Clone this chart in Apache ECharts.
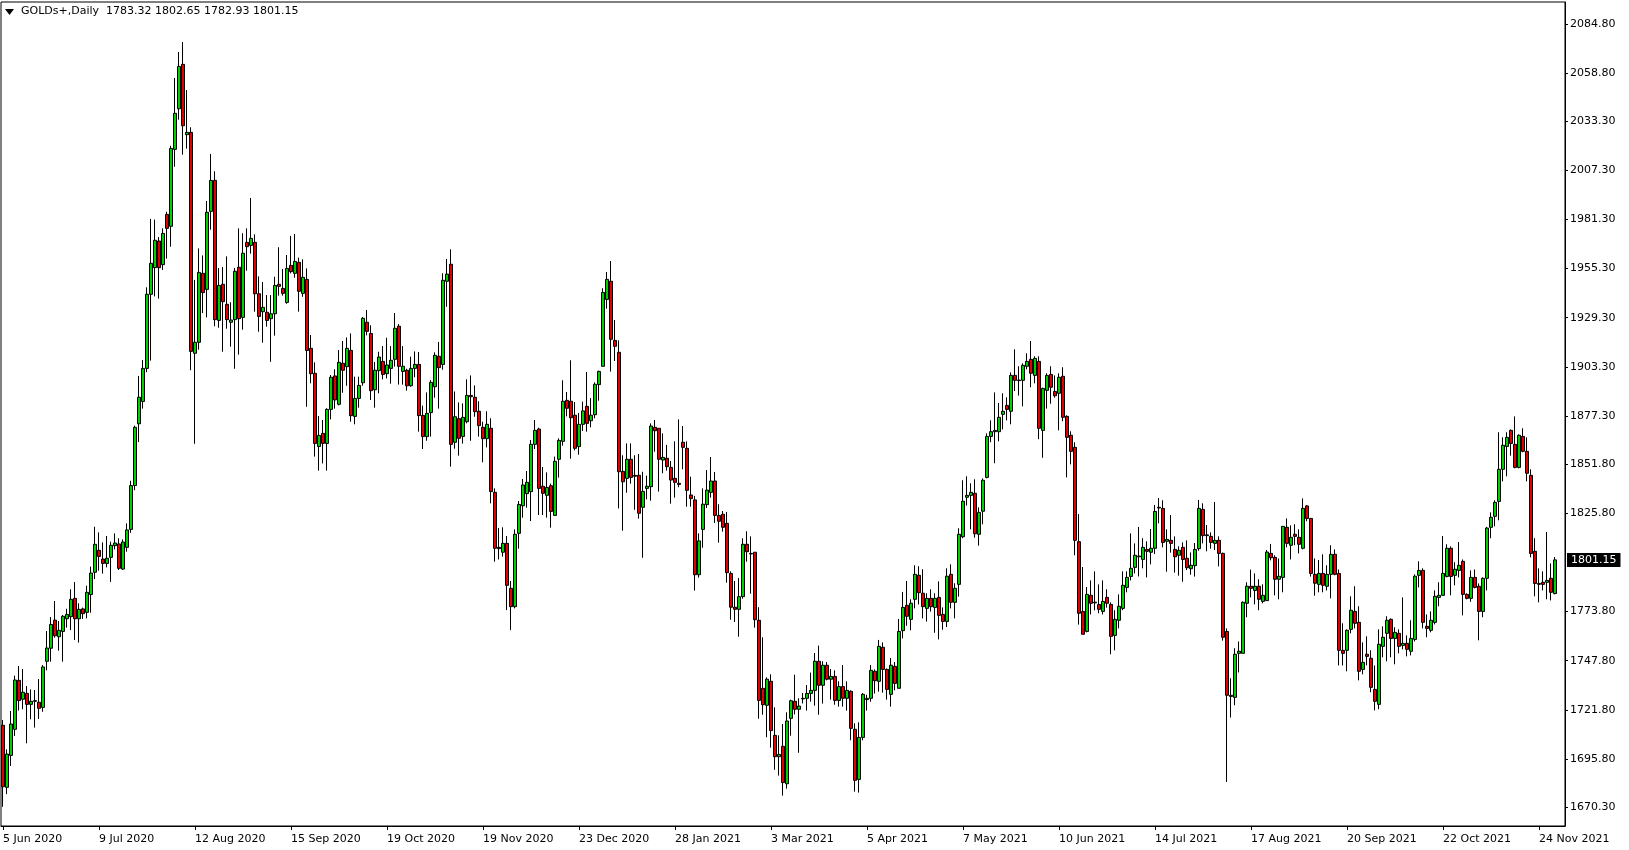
<!DOCTYPE html>
<html><head><meta charset="utf-8">
<script src="https://cdn.jsdelivr.net/npm/echarts@6/dist/echarts.min.js"></script>
<style>html,body{margin:0;padding:0;background:#fff}#c{width:1629px;height:850px}</style>
</head><body><div id="c"></div>
<script>
const chartTitle = 'GOLDs+,Daily';
const lastQuote = '1783.32 1802.65 1782.93 1801.15';
const currentPrice = 1801.15;
const tickLabels = ['5 Jun 2020','9 Jul 2020','12 Aug 2020','15 Sep 2020','19 Oct 2020','19 Nov 2020','23 Dec 2020','28 Jan 2021','3 Mar 2021','5 Apr 2021','7 May 2021','10 Jun 2021','14 Jul 2021','17 Aug 2021','20 Sep 2021','22 Oct 2021','24 Nov 2021'];
const priceTicks = [2084.80,2058.80,2033.30,2007.30,1981.30,1955.30,1929.30,1903.30,1877.30,1851.80,1825.80,1773.80,1747.80,1721.80,1695.80,1670.30];

const opens = [
1713.6,1680.8,1697.7,1711.5,1737.4,1727.4,1730.5,1724.7,1726.3,1725.8,
1723.1,1747.5,1754.4,1769.3,1760.5,1763.3,1770.0,1771.1,1780.8,1770.0,
1775.2,1773.4,1782.8,1794.6,1806.2,1801.6,1799.3,1802.5,1808.7,1809.6,
1796.3,1807.8,1817.3,1840.5,1873.2,1885.0,1902.5,1941.7,1955.8,1969.9,
1957.4,1984.0,1977.7,2018.4,2039.9,2063.4,2026.2,2027.4,1910.5,1916.3,
1952.8,1944.3,1985.6,2002.0,1927.9,1947.0,1936.4,1926.9,1928.3,1956.0,
1929.5,1969.2,1967.6,1969.2,1942.0,1932.5,1932.2,1928.8,1931.4,1947.0,
1944.8,1937.4,1957.0,1952.8,1958.6,1942.2,1949.6,1913.1,1899.9,1861.2,
1868.1,1862.8,1880.8,1898.5,1883.5,1905.2,1903.4,1912.0,1877.1,1886.6,
1894.9,1926.9,1921.0,1891.2,1901.3,1906.2,1899.7,1902.5,1907.3,1924.8,
1900.9,1901.5,1893.3,1902.5,1904.6,1877.6,1866.4,1879.1,1892.8,1908.9,
1904.6,1948.6,1957.6,1863.4,1875.9,1866.5,1874.3,1888.2,1887.2,1879.8,
1871.3,1865.3,1870.8,1836.9,1807.8,1805.2,1809.9,1786.1,1776.4,1815.2,
1829.8,1836.2,1837.3,1862.3,1870.4,1840.1,1835.3,1840.4,1824.7,1854.4,
1863.9,1885.6,1885.1,1877.7,1861.1,1872.9,1882.4,1874.8,1878.0,1893.9,
1903.6,1939.0,1948.6,1917.3,1911.0,1848.0,1844.3,1854.4,1845.9,1845.9,
1829.0,1839.0,1839.9,1871.3,1870.8,1854.0,1854.9,1850.1,1844.3,1841.7,
1863.4,1860.2,1835.5,1832.9,1793.3,1817.3,1830.4,1836.9,1842.9,1824.7,
1825.3,1820.5,1794.0,1776.1,1775.0,1781.7,1809.4,1804.6,1805.2,1769.2,
1733.2,1724.2,1736.9,1708.3,1697.0,1702.5,1682.7,1717.3,1726.3,1722.1,
1727.6,1727.9,1730.5,1732.1,1747.5,1734.8,1745.4,1738.0,1739.5,1726.8,
1734.1,1727.9,1731.6,1711.5,1685.0,1707.2,1727.2,1727.9,1742.2,1736.9,
1754.9,1743.2,1730.0,1744.8,1733.2,1763.7,1777.1,1769.7,1780.3,1793.0,
1783.5,1775.5,1780.8,1776.0,1781.3,1772.3,1768.6,1793.5,1778.7,1788.2,
1813.4,1834.3,1835.3,1836.4,1814.7,1826.9,1844.8,1866.5,1869.0,1869.0,
1878.2,1882.9,1879.8,1898.8,1896.3,1896.2,1903.6,1907.3,1898.8,1906.2,
1869.7,1890.9,1899.3,1890.3,1889.3,1898.3,1877.1,1867.1,1860.7,1810.8,
1773.9,1763.3,1782.4,1778.8,1777.6,1773.9,1781.3,1777.6,1761.2,1769.2,
1775.5,1786.6,1792.4,1797.2,1802.8,1801.4,1806.7,1805.2,1807.3,1829.0,
1828.4,1811.0,1811.5,1806.7,1803.6,1807.8,1802.0,1796.5,1798.1,1807.1,
1827.9,1814.4,1813.6,1809.9,1811.5,1804.6,1763.3,1729.5,1728.4,1751.7,
1751.7,1778.2,1787.2,1785.0,1787.2,1779.2,1779.6,1804.6,1802.5,1790.9,
1791.9,1818.4,1808.9,1814.7,1813.1,1807.3,1829.7,1823.1,1793.5,1788.2,
1794.0,1787.2,1793.5,1804.1,1794.0,1753.3,1753.3,1764.4,1773.9,1768.1,
1743.2,1751.2,1749.1,1732.6,1724.7,1755.4,1762.3,1769.7,1759.6,1762.3,
1755.9,1757.0,1752.8,1759.1,1793.0,1795.6,1766.0,1763.9,1768.1,1781.3,
1782.4,1792.4,1807.3,1793.0,1795.6,1800.4,1782.9,1780.8,1791.9,1787.2,
1773.9,1791.4,1818.4,1824.2,1832.1,1849.1,1861.2,1869.7,1862.3,1850.1,
1866.5,1858.6,1845.9,1805.7,1788.7,1789.3,1789.3,1791.4,1783.32];

const highs = [
1716.4,1700.9,1721.2,1739.9,1745.0,1743.4,1734.4,1732.6,1732.3,1738.1,
1745.5,1763.5,1770.9,1779.4,1768.8,1772.0,1775.3,1785.6,1789.4,1778.2,
1775.9,1787.5,1797.6,1818.7,1815.7,1810.4,1813.8,1810.8,1815.2,1812.6,
1812.0,1820.5,1843.0,1872.2,1898.5,1906.9,1945.4,1981.6,1981.2,1972.0,
1976.6,1985.4,2020.3,2056.2,2069.9,2075.2,2049.8,2030.1,1949.3,1966.0,
1962.3,1991.1,2016.0,2006.8,1955.6,1956.1,1961.8,1937.5,1955.6,1976.6,
1974.0,1976.6,1992.7,1973.4,1951.2,1948.2,1941.3,1941.3,1951.0,1966.6,
1955.1,1962.5,1972.6,1973.6,1961.1,1960.2,1955.4,1920.2,1905.7,1877.3,
1875.2,1881.4,1899.0,1902.0,1912.2,1917.0,1918.9,1921.0,1898.1,1898.1,
1929.7,1933.4,1925.3,1905.9,1911.3,1914.3,1918.7,1914.3,1931.8,1926.0,
1914.3,1902.3,1908.7,1911.5,1911.2,1882.8,1889.8,1896.3,1911.0,1916.5,
1952.8,1960.4,1965.5,1890.3,1884.5,1884.0,1896.7,1898.8,1893.5,1885.1,
1874.3,1879.8,1876.1,1839.0,1818.0,1818.4,1813.8,1790.0,1817.3,1832.3,
1844.0,1848.2,1864.6,1875.2,1871.1,1850.3,1847.5,1841.5,1855.8,1865.5,
1896.2,1890.0,1906.8,1884.7,1878.9,1884.9,1900.6,1886.8,1895.1,1901.3,
1944.9,1953.5,1959.3,1928.1,1917.3,1856.5,1862.8,1862.8,1856.5,1857.2,
1847.8,1845.7,1873.4,1875.2,1870.8,1868.1,1862.0,1853.5,1863.9,1875.5,
1872.0,1863.9,1845.2,1835.0,1815.2,1839.0,1848.7,1855.6,1847.7,1830.6,
1827.0,1826.5,1795.1,1790.0,1791.6,1812.6,1816.3,1813.6,1805.2,1776.1,
1760.2,1739.0,1740.6,1723.1,1708.3,1714.3,1720.5,1727.2,1740.4,1727.9,
1730.7,1734.9,1741.5,1751.9,1755.8,1747.5,1747.1,1743.4,1742.7,1736.9,
1745.5,1736.9,1732.1,1714.7,1715.2,1730.7,1729.8,1745.5,1743.2,1758.8,
1757.5,1743.7,1749.2,1747.1,1769.9,1784.2,1790.0,1780.3,1798.3,1797.8,
1796.2,1783.5,1785.6,1783.5,1789.8,1776.0,1796.7,1798.8,1788.8,1817.9,
1843.3,1845.4,1841.7,1843.8,1829.0,1844.3,1868.1,1875.0,1889.8,1884.2,
1889.3,1887.2,1900.4,1912.6,1903.6,1905.2,1910.5,1917.0,1908.9,1908.9,
1892.3,1899.9,1903.6,1898.8,1899.9,1903.1,1877.7,1869.2,1863.4,1825.4,
1797.4,1786.8,1790.3,1795.1,1788.2,1790.3,1785.6,1778.7,1774.5,1782.9,
1795.1,1795.1,1815.2,1809.9,1818.6,1812.6,1811.0,1817.5,1830.2,1833.9,
1832.7,1817.3,1824.9,1813.6,1808.3,1810.4,1811.5,1805.1,1810.1,1832.9,
1831.1,1819.6,1815.7,1831.8,1813.6,1805.0,1764.9,1738.5,1754.4,1758.0,
1779.2,1789.3,1796.0,1794.0,1790.9,1788.2,1806.4,1809.6,1803.6,1801.9,
1818.9,1823.1,1819.4,1820.0,1817.3,1833.7,1830.2,1823.1,1801.9,1801.1,
1804.1,1798.3,1808.9,1806.7,1796.1,1767.6,1764.4,1781.9,1787.2,1776.6,
1757.5,1760.7,1753.3,1745.3,1764.4,1766.0,1771.3,1770.2,1765.5,1764.4,
1781.3,1761.2,1769.2,1793.5,1800.4,1796.7,1772.3,1773.9,1785.0,1789.3,
1813.8,1809.4,1808.3,1799.9,1810.6,1801.4,1783.5,1795.6,1796.1,1788.7,
1791.9,1818.6,1826.3,1832.7,1868.7,1866.0,1868.7,1870.2,1877.1,1867.6,
1870.8,1866.0,1849.1,1812.6,1796.7,1795.1,1815.9,1799.3,1802.65];

const lows = [
1670.5,1677.2,1692.1,1708.0,1721.4,1722.1,1704.1,1716.8,1712.4,1717.0,
1720.8,1742.7,1747.3,1760.0,1753.1,1747.3,1765.3,1764.0,1758.8,1757.4,
1769.9,1770.2,1773.2,1791.0,1795.4,1793.9,1797.2,1789.5,1806.7,1795.8,
1795.8,1805.5,1815.5,1838.0,1863.5,1881.2,1900.5,1906.6,1940.6,1939.4,
1954.6,1960.6,1966.9,2009.2,2034.1,2015.6,2018.8,1901.5,1862.6,1912.4,
1931.8,1929.5,1975.9,1924.8,1924.0,1911.3,1923.5,1914.0,1902.3,1909.8,
1923.0,1954.2,1963.2,1932.5,1921.9,1916.1,1924.6,1906.0,1919.8,1941.0,
1941.0,1936.7,1952.8,1950.5,1932.5,1940.4,1882.2,1894.6,1855.8,1848.4,
1852.2,1848.4,1875.5,1881.2,1882.9,1889.6,1893.3,1874.3,1872.9,1881.7,
1893.3,1920.0,1885.8,1881.7,1889.3,1896.7,1897.2,1894.4,1903.4,1893.9,
1893.9,1890.7,1892.8,1897.8,1869.0,1859.8,1864.2,1866.4,1887.0,1881.2,
1901.8,1935.1,1850.5,1860.0,1856.3,1862.7,1873.4,1864.2,1876.9,1866.4,
1852.8,1860.7,1831.1,1800.2,1801.4,1802.9,1774.6,1764.0,1775.5,1807.1,
1823.5,1828.8,1821.7,1859.8,1824.9,1824.9,1823.5,1818.2,1824.7,1844.7,
1861.6,1877.1,1854.7,1859.1,1856.8,1869.4,1869.0,1871.3,1876.1,1885.4,
1903.6,1934.1,1900.8,1906.4,1828.4,1816.6,1836.7,1841.5,1827.7,1823.0,
1802.3,1833.2,1832.5,1858.4,1837.3,1847.0,1848.4,1830.9,1834.1,1839.6,
1849.1,1829.3,1829.3,1784.9,1791.8,1807.6,1828.6,1834.1,1820.7,1810.3,
1816.1,1789.1,1769.5,1768.3,1760.5,1780.6,1800.2,1783.3,1765.3,1717.1,
1719.2,1707.3,1701.8,1690.1,1687.0,1676.4,1680.1,1708.1,1719.4,1699.1,
1725.2,1721.4,1726.1,1724.0,1719.2,1725.1,1737.4,1727.2,1724.5,1723.5,
1723.5,1721.4,1705.7,1678.5,1678.0,1705.7,1721.4,1726.1,1730.4,1731.4,
1730.9,1727.2,1723.5,1732.1,1733.2,1759.6,1766.3,1763.9,1775.5,1777.6,
1770.2,1768.5,1773.8,1762.6,1759.1,1764.2,1765.6,1775.5,1770.2,1781.7,
1812.6,1829.9,1817.3,1812.9,1808.7,1820.0,1844.3,1863.4,1852.3,1863.9,
1870.2,1875.0,1872.9,1890.5,1888.1,1882.4,1902.0,1892.5,1894.6,1865.0,
1855.2,1881.2,1883.8,1887.0,1869.7,1874.5,1844.8,1851.7,1803.6,1766.9,
1761.8,1762.8,1772.3,1774.5,1772.9,1772.3,1775.9,1751.2,1753.3,1764.9,
1774.5,1784.0,1790.3,1794.0,1792.4,1796.7,1791.9,1798.8,1804.3,1820.5,
1807.8,1794.9,1805.0,1794.4,1792.8,1789.6,1795.8,1793.3,1792.3,1806.0,
1809.9,1805.7,1807.1,1806.4,1797.7,1758.4,1683.6,1717.7,1724.2,1741.6,
1751.7,1770.8,1781.3,1777.6,1774.5,1778.2,1779.6,1800.9,1782.4,1780.3,
1784.0,1807.8,1801.4,1808.9,1804.6,1806.7,1821.6,1792.3,1782.2,1784.0,
1784.0,1785.0,1780.8,1793.0,1745.3,1745.3,1742.2,1762.3,1764.9,1737.4,
1740.6,1745.3,1731.1,1721.5,1722.1,1749.6,1747.5,1749.6,1745.9,1751.7,
1753.8,1750.1,1750.6,1758.0,1786.6,1764.9,1760.2,1762.8,1767.0,1776.6,
1782.4,1791.9,1782.4,1787.7,1791.9,1771.8,1780.3,1779.0,1786.1,1758.6,
1770.8,1785.0,1812.6,1818.9,1822.1,1842.7,1845.4,1856.3,1849.6,1849.6,
1858.1,1842.7,1802.5,1781.9,1778.7,1785.0,1780.3,1779.7,1782.93];

const closes = [
1681.1,1698.4,1714.3,1737.6,1726.7,1731.1,1724.7,1726.3,1726.7,1722.6,
1744.5,1754.5,1767.0,1761.0,1763.9,1771.3,1772.3,1780.3,1770.0,1775.0,
1772.7,1784.0,1794.2,1809.4,1803.0,1799.3,1802.0,1808.9,1810.1,1796.7,
1810.6,1817.0,1840.5,1871.3,1887.2,1902.5,1941.7,1958.1,1970.3,1955.8,
1973.9,1976.6,2018.9,2037.5,2062.3,2030.9,2027.4,1911.5,1916.3,1953.3,
1942.6,1985.1,2002.0,1928.3,1946.4,1937.8,1928.3,1928.1,1953.9,1928.8,
1963.4,1966.9,1971.3,1942.0,1930.0,1934.8,1927.9,1931.4,1946.4,1945.9,
1942.2,1955.4,1953.7,1959.1,1943.3,1950.7,1912.0,1899.7,1862.8,1867.0,
1862.8,1880.8,1897.8,1885.8,1905.7,1901.5,1913.1,1877.5,1886.6,1893.5,
1929.0,1922.1,1890.7,1901.5,1908.5,1899.3,1904.3,1906.8,1923.7,1903.6,
1903.6,1893.3,1902.5,1904.6,1877.5,1866.4,1878.7,1895.1,1909.4,1902.9,
1949.1,1952.4,1862.3,1876.9,1865.5,1876.6,1888.2,1887.5,1879.6,1872.2,
1865.3,1872.9,1837.3,1807.3,1807.1,1809.9,1787.7,1776.4,1814.7,1830.5,
1840.8,1842.2,1862.3,1869.7,1839.0,1836.4,1839.5,1826.8,1853.3,1864.4,
1885.1,1881.4,1876.4,1860.2,1872.9,1880.0,1873.4,1877.7,1894.1,1900.9,
1942.7,1949.6,1917.9,1914.2,1847.8,1842.5,1854.4,1844.8,1845.4,1825.8,
1837.4,1840.1,1872.0,1869.5,1854.4,1855.4,1850.5,1843.4,1842.2,1841.1,
1860.7,1838.0,1833.6,1793.3,1811.2,1830.6,1838.1,1842.9,1824.7,1821.6,
1818.4,1794.4,1776.1,1775.0,1781.7,1809.4,1805.5,1804.3,1769.5,1726.8,
1724.5,1738.0,1710.8,1697.0,1698.2,1683.3,1715.9,1726.6,1722.1,1723.8,
1727.9,1730.5,1732.1,1747.5,1734.8,1745.4,1738.0,1739.5,1726.8,1734.1,
1727.9,1732.1,1712.0,1684.5,1707.2,1730.0,1727.9,1742.7,1737.2,1755.4,
1743.2,1732.6,1745.4,1735.8,1763.3,1776.0,1771.3,1778.2,1793.5,1783.8,
1776.4,1780.8,1776.4,1780.8,1771.8,1768.6,1792.5,1778.7,1786.1,1814.7,
1832.2,1835.3,1836.9,1815.0,1826.3,1843.3,1866.5,1869.0,1869.7,1876.6,
1879.8,1880.8,1898.8,1896.2,1896.0,1904.1,1906.2,1899.9,1907.8,1870.8,
1891.9,1898.8,1892.5,1888.0,1897.8,1876.6,1866.0,1858.6,1811.5,1772.9,
1761.8,1782.9,1778.2,1778.4,1775.0,1779.2,1778.2,1760.7,1769.7,1776.6,
1787.7,1791.9,1796.7,1803.6,1803.2,1807.8,1805.7,1807.3,1826.8,1828.6,
1810.4,1812.0,1809.9,1802.8,1806.2,1801.4,1797.0,1798.3,1806.7,1828.4,
1814.0,1814.0,1810.4,1811.5,1804.6,1760.2,1729.5,1728.9,1751.2,1752.8,
1778.7,1787.2,1786.1,1787.2,1780.3,1782.4,1805.3,1802.3,1790.9,1792.5,
1818.9,1809.9,1813.1,1813.6,1809.4,1828.4,1823.1,1794.0,1788.8,1794.0,
1787.7,1793.5,1804.1,1793.5,1753.3,1751.7,1763.9,1774.5,1767.6,1742.2,
1746.9,1750.1,1733.7,1726.3,1756.5,1760.2,1769.2,1759.6,1762.8,1755.4,
1757.0,1753.8,1759.6,1792.5,1795.6,1768.1,1764.9,1769.2,1781.9,1782.4,
1794.0,1807.3,1792.4,1796.2,1798.3,1782.9,1780.8,1791.9,1786.6,1773.9,
1791.4,1818.0,1823.7,1831.6,1849.1,1861.8,1866.0,1862.8,1850.1,1867.1,
1858.6,1847.0,1804.6,1788.7,1788.2,1788.2,1790.3,1784.0,1801.15];

// chart
const LABEL_EVERY = 24;
const EMPTY_RIGHT = 2;
const nSlots = opens.length + EMPTY_RIGHT;
const categories = [];
{
  const d = new Date(Date.UTC(2020, 5, 5));
  const mon = ['Jan','Feb','Mar','Apr','May','Jun','Jul','Aug','Sep','Oct','Nov','Dec'];
  while (categories.length < nSlots) {
    const wd = d.getUTCDay();
    if (wd !== 0 && wd !== 6) categories.push(d.getUTCDate() + ' ' + mon[d.getUTCMonth()] + ' ' + d.getUTCFullYear());
    d.setUTCDate(d.getUTCDate() + 1);
  }
}
const ohlc = opens.map((o, i) => [o, closes[i], lows[i], highs[i]]);

const chart = echarts.init(document.getElementById('c'), null, {renderer: 'canvas'});
const FONT = 'DejaVu Sans';
chart.setOption({
  animation: false,
  backgroundColor: '#ffffff',
  textStyle: {fontFamily: FONT},
  grid: {left: 1, right: 64, top: 2, bottom: 24, show: true, borderColor: '#000', borderWidth: 1, backgroundColor: '#fff'},
  xAxis: {
    type: 'category', data: categories, boundaryGap: true,
    axisLine: {show: true, lineStyle: {color: '#000', width: 1}},
    axisTick: {show: true, alignWithLabel: true, length: 4, interval: (i) => i % LABEL_EVERY === 0, lineStyle: {color: '#000'}},
    axisLabel: {interval: (i) => i % LABEL_EVERY === 0, formatter: (v, i) => tickLabels[i / LABEL_EVERY] || '', align: 'left', color: '#000', fontFamily: FONT, fontSize: 11, margin: 8},
    splitLine: {show: false}
  },
  yAxis: {
    type: 'value', position: 'right', min: 1660.33, max: 2096.39, scale: true,
    axisLine: {show: true, lineStyle: {color: '#000', width: 1}},
    axisTick: {show: true, customValues: priceTicks, length: 3, lineStyle: {color: '#000'}},
    axisLabel: {customValues: priceTicks, formatter: (v) => v.toFixed(2), color: '#000', fontFamily: FONT, fontSize: 11, margin: 5},
    splitLine: {show: false}
  },
  series: [{
    type: 'candlestick', data: ohlc, barWidth: 3,
    itemStyle: {color: '#00d000', color0: '#e00000', borderColor: '#000', borderColor0: '#000', borderWidth: 1},
    markLine: {
      silent: true, symbol: ['none', 'none'], animation: false, z: 10,
      lineStyle: {color: 'rgba(0,0,0,0)', width: 1, type: 'solid'},
      label: {show: true, position: 'end', formatter: currentPrice.toFixed(2), backgroundColor: '#000', color: '#fff', opacity: 1, fontFamily: FONT, fontSize: 11, padding: [2, 4, 1, 4], distance: 2},
      data: [{yAxis: currentPrice}]
    }
  }],
  graphic: [
    {type: 'polygon', shape: {points: [[5, 9], [14, 9], [9.5, 15]]}, style: {fill: '#000'}},
    {type: 'text', x: 21, y: 6, style: {text: chartTitle + '  ' + lastQuote, fill: '#000', font: '11px "DejaVu Sans"'}}
  ]
});
</script>
</body></html>
